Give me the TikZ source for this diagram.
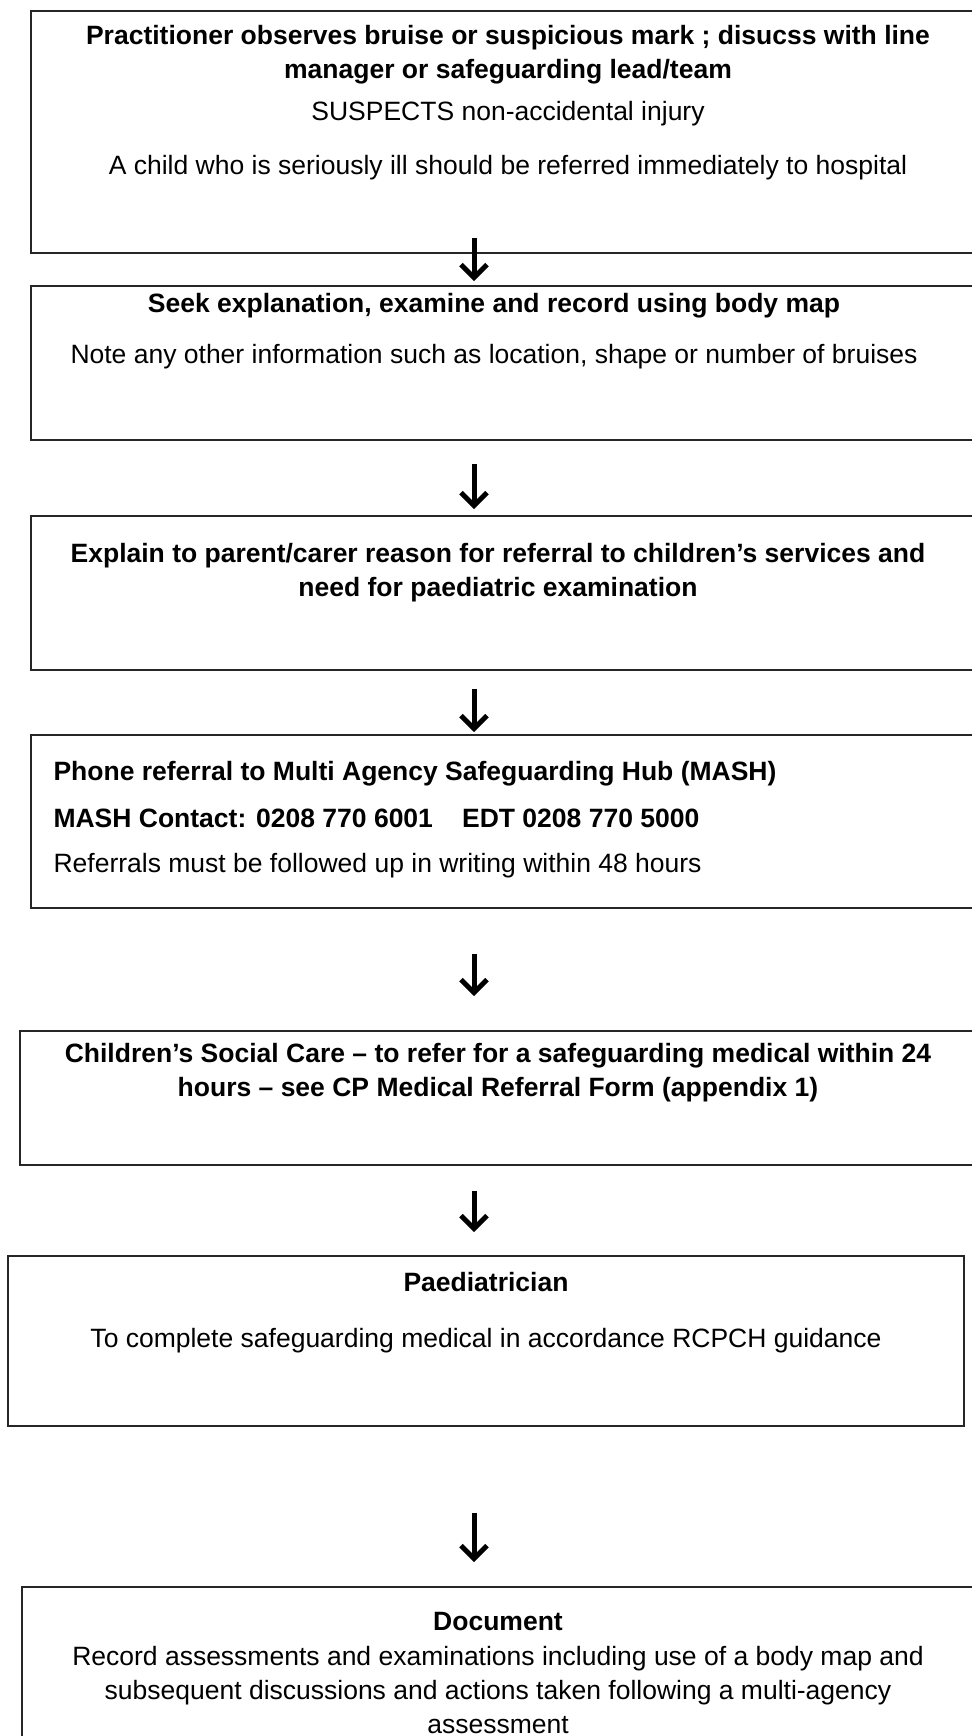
\documentclass[tikz,border=0pt]{standalone}
\usepackage{fontspec}
\setmainfont{Liberation Sans}
\usetikzlibrary{arrows.meta,positioning,calc,fit}

\begin{document}
\begin{tikzpicture}[x=1pt, y=-1pt,
    box/.style={draw=black!85, line width=1.6pt, inner sep=0pt},
    head/.style={font=\bfseries\fontsize{26.5}{34}\selectfont, align=center},
    body/.style={font=\fontsize{26.5}{34}\selectfont, align=center},
    arr/.style={line width=5pt, -{Straight Barb[length=13pt, width=26pt, line width=5pt]}}]

  \useasboundingbox (0,0) rectangle (971,1736);

  % Boxes (most run off the right edge of the page)
  \node[box, fit={(31,11) (985,253)}]    (observe) {};
  \node[box, fit={(31,286) (975,440)}]   (examine) {};
  \node[box, fit={(31,516) (975,670)}]   (explain) {};
  \node[box, fit={(31,735) (985,908)}]   (phone) {};
  \node[box, fit={(20,1031) (976,1165)}] (social) {};
  \node[box, fit={(8,1256) (964,1426)}]  (paed) {};
  \node[box, fit={(22,1587) (976,1760)}] (record) {};

  % Texts
  \node[head] (observeA) at (508,55)
    {Practitioner observes bruise or suspicious mark ; disucss with line\\
     manager or safeguarding lead/team};
  \node[body] (observeB) at (508,114) {SUSPECTS non-accidental injury};
  \node[body] (observeC) at (508,168) {A child who is seriously ill should be referred immediately to hospital};

  \node[head] (examineA) at (494,306) {Seek explanation, examine and record using body map};
  \node[body] (examineB) at (494,357) {Note any other information such as location, shape or number of bruises};

  \node[head] (explainA) at (498,573)
    {Explain to parent/carer reason for referral to children’s services and\\
     need for paediatric examination};

  \node[head, anchor=west] (phoneA) at (50,774) {Phone referral to Multi Agency Safeguarding Hub (MASH)};
  \node[head, anchor=west] (phoneB) at (50,818) {MASH Contact: 0208 770 6001\hspace{1.1em}EDT 0208 770 5000};
  \node[body, anchor=west] (phoneC) at (50,866) {Referrals must be followed up in writing within 48 hours};

  \node[head] (socialA) at (498,1073)
    {Children’s Social Care – to refer for a safeguarding medical within 24\\
     hours – see CP Medical Referral Form (appendix 1)};

  \node[head] (paedA) at (486,1282) {Paediatrician};
  \node[body] (paedB) at (486,1341) {To complete safeguarding medical in accordance RCPCH guidance};

  \node[head] (recordA) at (498,1621) {Document};
  \node[body] (recordB) at (498,1690)
    {Record assessments and examinations including use of a body map and\\
     subsequent discussions and actions taken following a multi-agency\\
     assessment};

  % Arrows
  \coordinate (mid) at (474,0);
  \draw[arr] ($(observe.south -| mid)+(0,-16)$) -- ($(examine.north -| mid)+(0,-4)$);
  \draw[arr] ($(examine.south -| mid)+(0,23)$)  -- ($(explain.north -| mid)+(0,-6)$);
  \draw[arr] ($(explain.south -| mid)+(0,18)$)  -- ($(phone.north -| mid)+(0,-2)$);
  \draw[arr] ($(phone.south -| mid)+(0,45)$)    -- ($(social.north -| mid)+(0,-34)$);
  \draw[arr] ($(social.south -| mid)+(0,25)$)   -- ($(paed.north -| mid)+(0,-23)$);
  \draw[arr] ($(paed.south -| mid)+(0,86)$)     -- ($(record.north -| mid)+(0,-24)$);

\end{tikzpicture}
\end{document}
